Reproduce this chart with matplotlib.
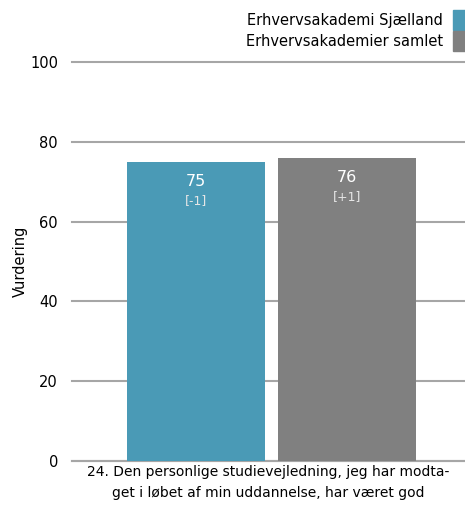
import matplotlib.pyplot as plt
from matplotlib.patches import Rectangle

# data
series = ['Erhvervsakademi Sjælland', 'Erhvervsakademier samlet']
values = [75, 76]
changes = ['[-1]', '[+1]']
colors = ['#4a9ab6', '#808080']
question = '24. Den personlige studievejledning, jeg har modta-\nget i løbet af min uddannelse, har været god'
yticks = [0, 20, 40, 60, 80, 100]

W, H = 465, 505
fig = plt.figure(figsize=(W / 100, H / 100), dpi=100)
ax = fig.add_axes([72 / W, (H - 461) / H, (465 - 72) / W, (461 - 62) / H])

width = 138 / 393
offsets = [-0.1845, 0.1997]
for off, val, ch, col in zip(offsets, values, changes, colors):
    ax.bar(off, val, width=width, color=col, zorder=3)
    ax.text(off, val - 5.0, str(val), ha='center', va='center', color='white', fontsize=11.5, zorder=4)
    ax.text(off, val - 9.7, ch, ha='center', va='center', color='#e6e6e6', fontsize=9, zorder=4)

ax.set_xlim(-0.5, 0.5)
ax.set_ylim(0, 100)
ax.set_yticks(yticks)
ax.yaxis.grid(True, color='#a6a6a6', linewidth=1.5, zorder=0)
for gl in ax.get_ygridlines():
    gl.set_clip_on(False)
ax.tick_params(axis='y', length=0, pad=10, labelsize=10.5)
ax.set_xticks([0])
ax.set_xticklabels([question], fontsize=10, linespacing=1.6)
ax.tick_params(axis='x', length=0, pad=3)
for s in ['top', 'right', 'left']:
    ax.spines[s].set_visible(False)
ax.spines['bottom'].set_color('#a6a6a6')
ax.spines['bottom'].set_linewidth(1.5)
fig.text(20 / W, 1 - 261 / H, 'Vurdering', rotation=90, ha='center', va='center', fontsize=10.5)

# legend
for i, (lab, col) in enumerate(zip(series, colors)):
    yc = 20 + i * 21
    fig.text(443 / W, 1 - yc / H, lab, ha='right', va='center', fontsize=10.5)
    fig.patches.append(Rectangle((453 / W, 1 - (yc + 10) / H), 12 / W, 20 / H,
                                 transform=fig.transFigure, color=col))

fig.savefig('out.png', dpi=100)
